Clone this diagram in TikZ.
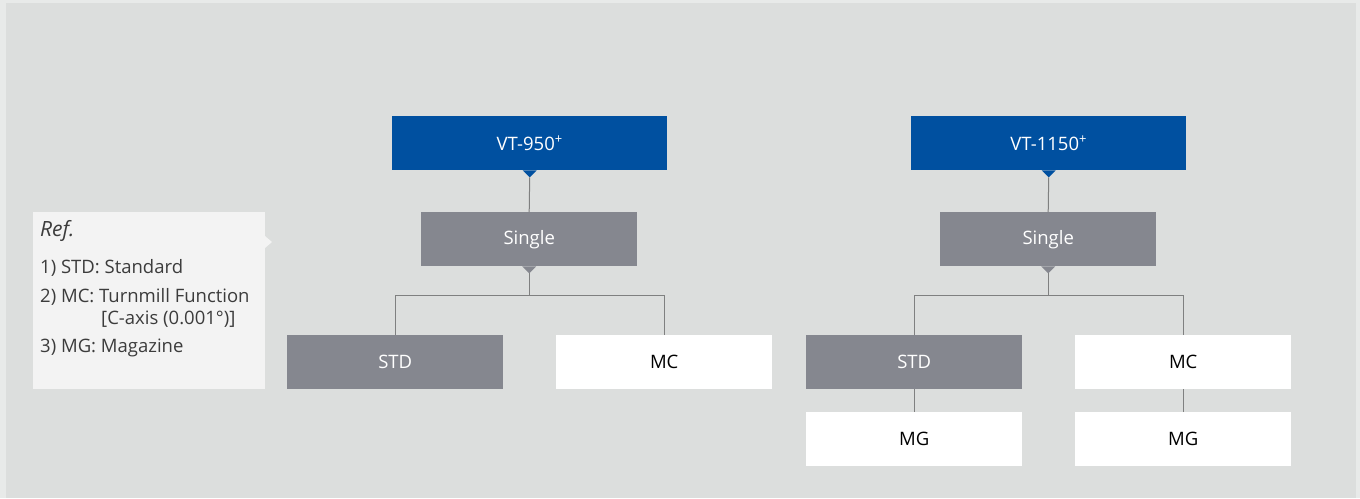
\documentclass[tikz,border=0pt]{standalone}
\usepackage{fontspec}
\setmainfont{Open Sans}
\definecolor{outerbg}{HTML}{E8EAE9}
\definecolor{bg}{HTML}{DCDEDD}
\definecolor{refbg}{HTML}{F3F3F3}
\definecolor{vblue}{HTML}{0050A0}
\definecolor{vgray}{HTML}{85878F}
\definecolor{lgray}{HTML}{7F8080}
\definecolor{txt}{HTML}{3C3C3C}
\begin{document}
\begin{tikzpicture}[x=1pt,y=-1pt,
  box/.style={minimum width=216pt,minimum height=54pt,inner sep=0pt,font=\fontsize{18.5}{20}\selectfont,anchor=north west},
  bluebox/.style={box,fill=vblue,text=white,minimum width=275pt},
  graybox/.style={box,fill=vgray,text=white},
  whitebox/.style={box,fill=white,text=black},
  conn/.style={draw=lgray,line width=1pt},
  reftext/.style={anchor=base west,inner sep=0pt,text=txt,font=\fontsize{18.5}{20}\selectfont}]
\fill[outerbg] (0,0) rectangle (1360,498);
\fill[bg] (6,3) rectangle (1356,498);
% reference box
\node[fill=refbg,minimum width=232pt,minimum height=177pt,inner sep=0pt,anchor=north west] (ref) at (33,212) {};
\fill[refbg] (265,236) -- (272,242) -- (265,248) -- cycle;
\node[reftext,font=\fontsize{21}{24}\selectfont\itshape] (reft) at (40,236) {Ref.};
\node[reftext] (r1) at (40,273) {1) STD: Standard};
\node[reftext] (r2) at (40,302) {2) MC: Turnmill Function};
\node[reftext] (r2b) at (101,324) {[C-axis (0.001°)]};
\node[reftext] (r3) at (40,352) {3) MG: Magazine};
% left tree
\node[bluebox] (a0) at (392,116) {VT-950\textsuperscript{+}};
\node[graybox] (a1) at (421,212) {Single};
\node[graybox] (astd) at (287,335) {STD};
\node[whitebox] (amc) at (556,335) {MC};
\fill[vblue] ([xshift=-7pt]a0.south) -- ([xshift=7pt]a0.south) -- ([yshift=-7pt]a0.south) -- cycle;
\fill[vgray] ([xshift=-7pt]a1.south) -- ([xshift=7pt]a1.south) -- ([yshift=-7pt]a1.south) -- cycle;
\draw[conn] ([yshift=-7pt]a0.south) -- (a1.north);
\coordinate (aj) at ([yshift=-29pt]a1.south);
\draw[conn] ([yshift=-7pt]a1.south) -- (aj);
\draw[conn] (astd.north) -- (astd.north |- aj) -- (amc.north |- aj) -- (amc.north);
% right tree
\node[bluebox] (b0) at (911,116) {VT-1150\textsuperscript{+}};
\node[graybox] (b1) at (940,212) {Single};
\node[graybox] (bstd) at (806,335) {STD};
\node[whitebox] (bmc) at (1075,335) {MC};
\node[whitebox] (bmg1) at (806,412) {MG};
\node[whitebox] (bmg2) at (1075,412) {MG};
\fill[vblue] ([xshift=-7pt]b0.south) -- ([xshift=7pt]b0.south) -- ([yshift=-7pt]b0.south) -- cycle;
\fill[vgray] ([xshift=-7pt]b1.south) -- ([xshift=7pt]b1.south) -- ([yshift=-7pt]b1.south) -- cycle;
\draw[conn] ([yshift=-7pt]b0.south) -- (b1.north);
\coordinate (bj) at ([yshift=-29pt]b1.south);
\draw[conn] ([yshift=-7pt]b1.south) -- (bj);
\draw[conn] (bstd.north) -- (bstd.north |- bj) -- (bmc.north |- bj) -- (bmc.north);
\draw[conn] (bstd.south) -- (bmg1.north);
\draw[conn] (bmc.south) -- (bmg2.north);
\end{tikzpicture}
\end{document}
